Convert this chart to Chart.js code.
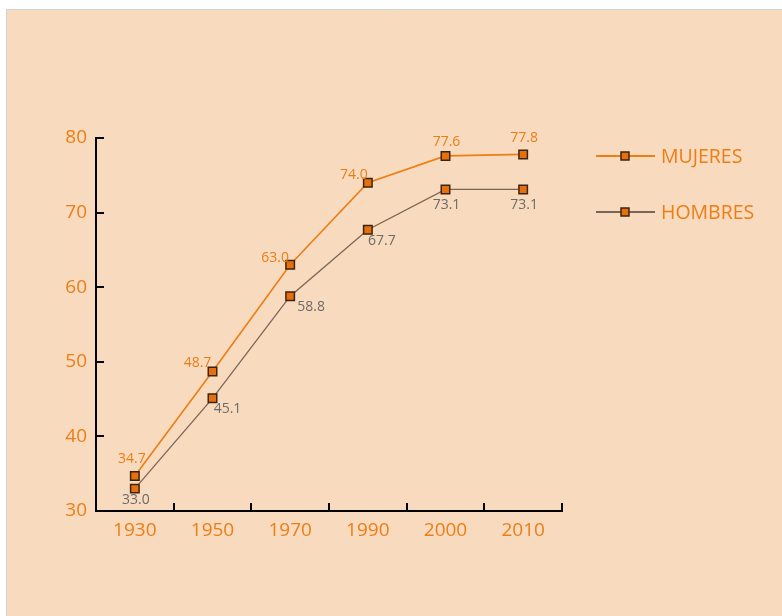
<!DOCTYPE html>
<html>
<head>
<meta charset="utf-8">
<script src="https://cdn.jsdelivr.net/npm/chart.js@4/dist/chart.umd.min.js"></script>
<style>
  html, body { margin: 0; padding: 0; background: #ffffff; }
  #wrap { position: relative; width: 782px; height: 616px; }
</style>
</head>
<body>
<div id="wrap"><canvas id="c" width="782" height="616"></canvas></div>
<script>
// Esperanza de vida al nacer por sexo
const years = ['1930', '1950', '1970', '1990', '2000', '2010'];
const mujeres = [34.7, 48.7, 63.0, 74.0, 77.6, 77.8];
const hombres = [33.0, 45.1, 58.8, 67.7, 73.1, 73.1];
const yTicks = [30, 40, 50, 60, 70, 80];

const ORANGE = '#ee7d14';
const BROWN = '#7a6656';
const PANEL = '#f8dbbf';
const FONT = '"Open Sans", "Noto Sans", sans-serif';

// Panel background with thin border
const panelPlugin = {
  id: 'panel',
  beforeDraw(chart) {
    const ctx = chart.ctx;
    ctx.save();
    ctx.fillStyle = '#ffffff';
    ctx.fillRect(0, 0, chart.width, chart.height);
    ctx.fillStyle = PANEL;
    ctx.fillRect(6, 9, chart.width - 6, chart.height - 9);
    ctx.strokeStyle = '#cfd3d6';
    ctx.lineWidth = 1;
    ctx.beginPath();
    ctx.moveTo(6.5, chart.height);
    ctx.lineTo(6.5, 9.5);
    ctx.lineTo(chart.width, 9.5);
    ctx.stroke();
    ctx.restore();
  }
};

// Short inward tick marks on both axes
const innerTicks = {
  id: 'innerTicks',
  afterDraw(chart) {
    const ctx = chart.ctx;
    const x = chart.scales.x, y = chart.scales.y;
    ctx.save();
    ctx.strokeStyle = '#000';
    ctx.lineWidth = 2;
    ctx.beginPath();
    for (let i = 1; i <= years.length; i++) {
      const px = Math.round(x.getPixelForValue(i - 0.5));
      ctx.moveTo(px, y.bottom);
      ctx.lineTo(px, y.bottom - 8);
    }
    y.ticks.forEach(t => {
      const py = Math.round(y.getPixelForValue(t.value));
      ctx.moveTo(x.left, py);
      ctx.lineTo(x.left + 8, py);
    });
    ctx.stroke();
    ctx.restore();
  }
};

// Value labels next to each point
const valueLabels = {
  id: 'valueLabels',
  afterDatasetsDraw(chart) {
    const ctx = chart.ctx;
    ctx.save();
    ctx.font = '14px ' + FONT;
    ctx.textBaseline = 'middle';
    const placeM = [[-3, -17], [-15, -8], [-15, -7], [-14, -8], [1, -14], [1, -16]];
    const placeH = [[1, 11], [15, 11], [21, 11], [14, 11], [1, 16], [1, 16]];
    [[0, placeM, ORANGE], [1, placeH, '#6f6a66']].forEach(([di, place, color]) => {
      const meta = chart.getDatasetMeta(di);
      const vals = chart.data.datasets[di].data;
      ctx.fillStyle = color;
      ctx.textAlign = 'center';
      meta.data.forEach((pt, i) => {
        ctx.fillText(vals[i].toFixed(1), pt.x + place[i][0], pt.y + place[i][1]);
      });
    });
    ctx.restore();
  }
};

// Legend on the right side
const sideLegend = {
  id: 'sideLegend',
  afterDraw(chart) {
    const ctx = chart.ctx;
    ctx.save();
    const rows = [156, 212];
    chart.data.datasets.forEach((ds, i) => {
      const yy = rows[i];
      ctx.strokeStyle = ds.borderColor;
      ctx.lineWidth = 2;
      ctx.beginPath();
      ctx.moveTo(596, yy);
      ctx.lineTo(655, yy);
      ctx.stroke();
      ctx.fillStyle = ds.pointBackgroundColor;
      ctx.strokeStyle = ds.pointBorderColor;
      ctx.lineWidth = 1.5;
      ctx.fillRect(621, yy - 4, 8, 8);
      ctx.strokeRect(621, yy - 4, 8, 8);
      ctx.fillStyle = ORANGE;
      ctx.font = '19.5px ' + FONT;
      ctx.textAlign = 'left';
      ctx.textBaseline = 'middle';
      ctx.fillText(ds.label, 661, yy + 1);
    });
    ctx.restore();
  }
};

new Chart(document.getElementById('c'), {
  type: 'line',
  data: {
    labels: years,
    datasets: [
      {
        label: 'MUJERES', data: mujeres,
        borderColor: ORANGE, borderWidth: 1.6,
        pointStyle: 'rect', pointRadius: 6, pointBorderWidth: 1.5,
        pointBackgroundColor: '#e8700c', pointBorderColor: '#3a2410',
        tension: 0
      },
      {
        label: 'HOMBRES', data: hombres,
        borderColor: BROWN, borderWidth: 1.3,
        pointStyle: 'rect', pointRadius: 6, pointBorderWidth: 1.5,
        pointBackgroundColor: '#e8700c', pointBorderColor: '#3a2410',
        tension: 0
      }
    ]
  },
  options: {
    responsive: false,
    animation: false,
    devicePixelRatio: 1,
    layout: { padding: { top: 138, right: 220, left: 0, bottom: 0 } },
    plugins: { legend: { display: false }, tooltip: { enabled: false } },
    scales: {
      x: {
        type: 'category',
        offset: true,
        grid: { display: false, drawTicks: false },
        border: { display: true, color: '#000', width: 2 },
        ticks: { color: ORANGE, font: { family: FONT, size: 19 }, padding: 8, maxRotation: 0 },
        afterFit(s) { s.height = 105; }
      },
      y: {
        min: 30, max: 80,
        afterBuildTicks(s) { s.ticks = yTicks.map(v => ({ value: v })); },
        grid: { display: false, drawTicks: false },
        border: { display: true, color: '#000', width: 2 },
        ticks: { color: ORANGE, font: { family: FONT, size: 19 }, padding: 9 },
        afterFit(s) { s.width = 96; }
      }
    }
  },
  plugins: [panelPlugin, innerTicks, valueLabels, sideLegend]
});
</script>
</body>
</html>
